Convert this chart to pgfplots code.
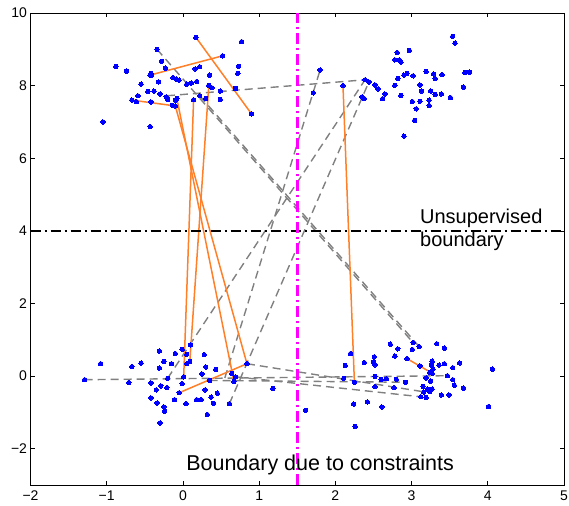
\documentclass[border=0pt]{standalone}
\usepackage{fontspec}
\setmainfont{Liberation Sans}
\usepackage{pgfplots}
\pgfplotsset{compat=1.18}
\definecolor{orng}{RGB}{255,128,40}
\definecolor{dgray}{RGB}{128,128,128}
\definecolor{mgnt}{RGB}{255,0,255}
\definecolor{pblue}{RGB}{0,0,255}
\begin{document}
\begin{tikzpicture}
\begin{axis}[
  scale only axis, width=533.5pt, height=472pt,
  xmin=-2, xmax=5, ymin=-3, ymax=10,
  xtick={-2,-1,0,1,2,3,4,5}, ytick={-2,0,2,4,6,8,10},
  xticklabels={−2,−1,0,1,2,3,4,5},
  yticklabels={−2,0,2,4,6,8,10},
  tick align=inside, major tick length=4pt,
  tick style={black, line width=0.6pt},
  axis line style={black, line width=0.9pt},
  ticklabel style={font=\fontsize{14}{16}\selectfont},
  xticklabel style={yshift=-2pt},
  clip=true,
]
% ---- cannot-link (gray dashed)
\pgfplotsset{cl/.style={dgray, line width=1.4pt, dash pattern=on 8pt off 5pt}}
\addplot[cl] coordinates {(-0.34,9.00) (3.02,0.92)};
\addplot[cl] coordinates {(0.22,7.72) (3.10,0.81)};
\addplot[cl] coordinates {(-0.21,7.72) (2.39,8.16)};
\addplot[cl] coordinates {(-0.20,-0.06) (2.39,8.16)};
\addplot[cl] coordinates {(0.61,-0.76) (2.44,8.10)};
\addplot[cl] coordinates {(0.55,-0.05) (1.80,8.43)};
\addplot[cl] coordinates {(-1.29,-0.10) (3.47,0.01)};
\addplot[cl] coordinates {(0.84,0.34) (3.15,-0.43)};
\addplot[cl] coordinates {(0.35,-0.12) (2.92,-0.17)};
\addplot[cl] coordinates {(0.69,-0.02) (3.12,-0.57)};
% ---- must-link (orange)
\pgfplotsset{ml/.style={orng, line width=1.5pt}}
\addplot[ml] coordinates {(0.17,9.33) (0.90,7.22)};
\addplot[ml] coordinates {(-0.43,8.29) (0.52,8.82)};
\addplot[ml] coordinates {(-0.67,7.60) (-0.10,7.44)};
\addplot[ml] coordinates {(0.14,7.61) (0.01,-0.02)};
\addplot[ml] coordinates {(0.34,8.01) (0.09,0.40)};
\addplot[ml] coordinates {(-0.08,7.65) (0.67,-0.15)};
\addplot[ml] coordinates {(-0.10,7.44) (0.84,0.34)};
\addplot[ml] coordinates {(-0.05,-0.46) (0.84,0.34)};
\addplot[ml] coordinates {(2.10,8.00) (2.25,-0.17)};
\addplot[ml] coordinates {(2.94,0.48) (3.27,0.08)};
% ---- data points
\addplot[only marks, mark=*, mark size=2.2pt, mark options={draw=pblue, fill=pblue, line width=0pt}] table {
x y
0.17 9.33
0.77 9.21
-0.34 9.00
0.52 8.82
-0.88 8.53
-0.74 8.40
-0.28 8.67
0.73 8.53
0.72 8.34
-0.42 8.34
-0.43 8.29
-0.41 8.29
-0.23 8.48
0.16 8.46
0.22 8.52
0.35 8.29
-0.13 8.22
-0.09 8.18
-0.05 8.15
-0.32 8.10
-0.55 8.04
0.05 8.04
0.11 8.07
0.18 8.11
0.34 8.01
0.38 7.94
0.69 7.92
0.49 7.85
-0.46 7.84
-0.38 7.85
-0.30 7.77
-0.59 7.72
-0.22 7.69
-0.20 7.62
-0.08 7.65
-0.10 7.60
0.14 7.61
0.22 7.72
0.30 7.65
0.49 7.62
-0.67 7.60
-0.61 7.56
-0.42 7.55
-0.14 7.46
-0.10 7.44
0.90 7.22
-1.05 7.00
-0.43 6.87
1.80 8.43
1.71 7.80
2.10 8.00
3.54 9.36
3.57 9.17
2.81 8.91
2.97 8.97
2.78 8.71
2.84 8.71
2.86 8.65
2.94 8.34
2.90 8.29
3.02 8.27
3.19 8.39
3.29 8.32
3.40 8.30
3.31 8.19
3.70 8.36
3.76 8.37
2.82 8.20
2.39 8.16
2.44 8.10
2.52 8.02
2.56 7.91
2.78 8.01
3.11 8.02
3.13 7.85
3.25 7.85
3.31 7.76
3.39 7.77
3.68 7.96
2.65 7.77
2.62 7.64
2.86 7.73
2.35 7.69
2.38 7.64
3.01 7.56
3.11 7.57
3.23 7.60
3.23 7.45
3.51 7.67
3.06 7.36
3.04 7.04
2.90 6.61
0.10 0.86
-0.31 0.69
-0.10 0.62
-0.01 0.74
0.28 0.59
0.05 0.60
-1.08 0.34
-0.67 0.26
-0.55 0.36
-0.25 0.40
-0.15 0.34
0.05 0.34
0.09 0.40
-0.31 0.22
0.30 0.25
0.43 0.18
0.25 0.06
0.01 -0.02
-0.20 -0.06
-1.29 -0.10
-0.71 -0.18
-0.42 -0.19
-0.29 -0.27
-0.01 -0.21
0.35 -0.12
0.64 0.07
0.69 -0.02
0.67 -0.15
0.84 0.34
-0.35 -0.38
-0.21 -0.32
-0.05 -0.46
0.29 -0.38
0.45 -0.47
-0.42 -0.60
-0.34 -0.74
-0.11 -0.65
0.04 -0.76
0.18 -0.65
0.24 -0.65
0.37 -0.58
0.40 -0.75
0.61 -0.76
-0.25 -0.85
-0.24 -0.97
0.32 -1.06
-0.30 -1.29
1.18 -0.34
1.61 -0.94
2.72 0.88
2.82 0.75
3.02 0.92
3.10 0.81
3.01 0.73
3.33 0.89
3.43 0.77
2.20 0.62
2.78 0.55
2.51 0.53
2.38 0.37
2.50 0.39
2.52 0.31
2.13 0.29
2.94 0.48
3.11 0.28
3.27 0.41
3.26 0.30
3.36 0.30
3.43 0.34
3.63 0.36
3.54 0.23
3.28 0.19
3.24 0.10
3.27 0.08
4.06 0.19
3.47 0.01
2.52 -0.01
3.19 -0.05
2.60 -0.09
2.67 -0.07
2.80 -0.09
2.92 -0.17
3.25 -0.14
2.11 -0.06
2.25 -0.17
3.54 -0.10
3.56 -0.25
3.68 -0.33
2.52 -0.29
2.77 -0.32
3.15 -0.28
3.21 -0.36
3.27 -0.36
3.16 -0.44
3.24 -0.43
3.39 -0.52
3.49 -0.52
3.12 -0.57
3.19 -0.59
2.42 -0.71
2.24 -0.77
2.61 -0.85
4.01 -0.84
2.26 -1.39
};
% ---- boundaries
\addplot[black, line width=2.4pt, dash pattern=on 10pt off 4pt on 2pt off 4pt] coordinates {(-2,4) (5,4)};
\addplot[mgnt, line width=2.8pt, dash pattern=on 11pt off 4pt on 2pt off 4pt] coordinates {(1.5,-3) (1.5,10)};
% ---- annotations
\node[anchor=west, inner sep=0pt, font=\fontsize{20}{22}\selectfont] at (axis cs:3.11,4.34) {Unsupervised};
\node[anchor=west, inner sep=0pt, font=\fontsize{20}{22}\selectfont] at (axis cs:3.11,3.71) {boundary};
\node[inner sep=0pt, font=\fontsize{21.5}{23}\selectfont] at (axis cs:1.80,-2.46) {Boundary due to constraints};
\end{axis}
\pgfresetboundingbox
\path ([shift={(-30.5pt,-20pt)}]current axis.south west) rectangle ([shift={(5pt,13pt)}]current axis.north east);
\end{tikzpicture}
\end{document}
